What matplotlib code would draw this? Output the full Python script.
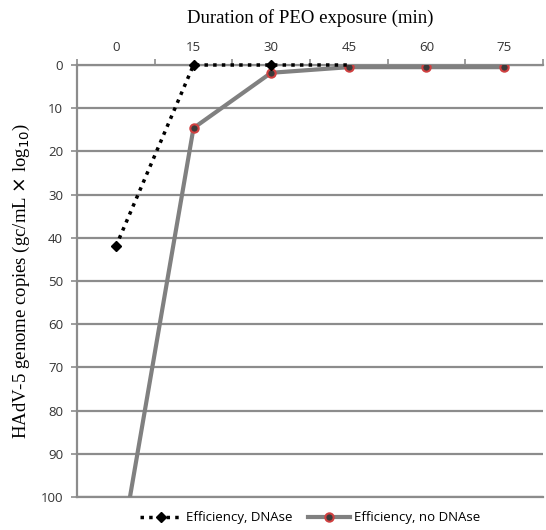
import matplotlib
matplotlib.use("Agg")
import matplotlib.pyplot as plt
from matplotlib.ticker import MultipleLocator, FixedLocator

# === Data ===
durations = ["0", "15", "30", "45", "60", "75"]
dnase = [42, 0, 0, 0]
no_dnase = [119, 14.6, 1.8, 0.5, 0.5, 0.5]

grid_col = "#8c8c8c"

fig = plt.figure(figsize=(5.46, 5.30), dpi=100)
ax = fig.add_axes([77 / 546, 1 - 497 / 530, 466 / 546, 432 / 530])

x_all = list(range(len(durations)))

ax.plot(x_all, no_dnase, color="#808080", linewidth=3, marker="o", markersize=6,
        markerfacecolor="#3a3a3a", markeredgecolor="#d04040", markeredgewidth=1.5,
        label="Efficiency, no DNAse", zorder=3, clip_on=True)
ax.plot(x_all[:len(dnase)], dnase, color="black", linewidth=2.5, linestyle=(0, (1, 1.5)),
        marker="D", markersize=5, markevery=[0, 1, 2],
        markerfacecolor="black", markeredgecolor="black",
        label="Efficiency, DNAse", zorder=4, clip_on=False)

ax.set_xlim(-0.5, 5.5)
ax.set_ylim(100, 0)

# Y axis
ax.yaxis.set_major_locator(MultipleLocator(10))
ax.grid(axis="y", color=grid_col, linewidth=1.6)
ax.tick_params(axis="y", length=4, color=grid_col, width=1.2, labelsize=9.5, pad=6,
               labelcolor="#333333")
for lab in ax.get_yticklabels():
    lab.set_family("Open Sans")

# X axis on top
ax.xaxis.tick_top()
ax.xaxis.set_label_position("top")
ax.xaxis.set_major_locator(FixedLocator(x_all))
ax.set_xticklabels(durations, family="Open Sans", fontsize=9.5, color="#333333")
ax.xaxis.set_minor_locator(FixedLocator([i + 0.5 for i in range(-1, 6)]))
ax.tick_params(axis="x", which="major", length=0, pad=8)
ax.tick_params(axis="x", which="minor", length=4, color=grid_col, width=1.2, top=True)

ax.spines["right"].set_visible(False)
for side in ["left", "top", "bottom"]:
    ax.spines[side].set_color(grid_col)
    ax.spines[side].set_linewidth(1.6)

ax.set_xlabel("Duration of PEO exposure (min)", family="Liberation Serif",
              fontsize=13.5, labelpad=13)
ax.set_ylabel("HAdV-5 genome copies (gc/mL $\\times$ log$_{10}$)",
              family="Liberation Serif", fontsize=13.5, labelpad=6)

handles, labels = ax.get_legend_handles_labels()
leg = fig.legend(handles[::-1], labels[::-1], loc="center",
                 bbox_to_anchor=(310 / 546, 1 - 518 / 530),
                 ncol=2, frameon=False, prop={"family": "Open Sans", "size": 9.5},
                 handlelength=3.2, columnspacing=1.2, handletextpad=0.3)

fig.savefig("out.png", dpi=100)
